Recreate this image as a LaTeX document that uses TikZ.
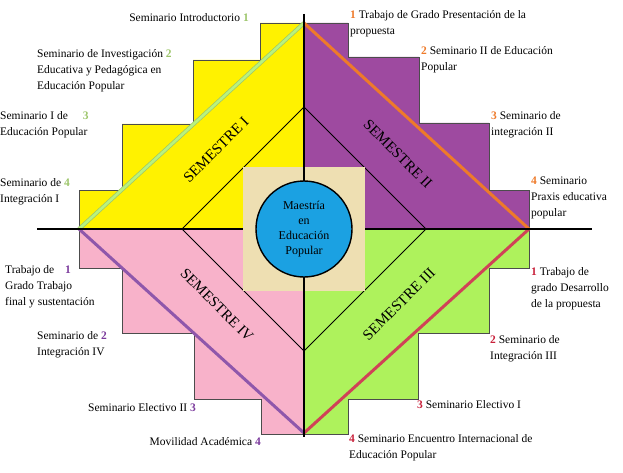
\documentclass[tikz,border=0pt]{standalone}
\usepackage{fontspec}
\setmainfont{Liberation Serif}
\usepackage{xcolor}
\usetikzlibrary{positioning}
\definecolor{semone}{HTML}{FFF200}
\definecolor{semtwo}{HTML}{9E4AA0}
\definecolor{semthree}{HTML}{AEF25C}
\definecolor{semfour}{HTML}{F8B2CA}
\definecolor{beige}{HTML}{EEDFB2}
\definecolor{core}{HTML}{1BA1E2}
\definecolor{numone}{HTML}{9CC56A}
\definecolor{numtwo}{HTML}{EE7A2A}
\definecolor{numthree}{HTML}{C8203A}
\definecolor{numfour}{HTML}{7B3A9C}
\definecolor{lineone}{HTML}{B8F27E}
\tikzset{
  stairs/.style={draw=black!70,line width=0.6pt},
  lbl/.style={inner sep=0pt,align=left,font=\fontsize{11.5}{16}\selectfont},
  semlbl/.style={inner sep=0pt,font=\fontsize{15}{16}\selectfont}
}
\newcommand{\nA}[1]{\textcolor{numone}{\textbf{#1}}}
\newcommand{\nB}[1]{\textcolor{numtwo}{\textbf{#1}}}
\newcommand{\nC}[1]{\textcolor{numthree}{\textbf{#1}}}
\newcommand{\nD}[1]{\textcolor{numfour}{\textbf{#1}}}
\begin{document}
\begin{tikzpicture}[x=1pt,y=-1pt]
  \useasboundingbox (0,0) rectangle (623,473);
  \coordinate (c) at (304,229);

  % quadrants
  \fill[semone,stairs] (304,229) -- (79,229) -- (79,190) -- (122,190) -- (122,124)
    -- (193,124) -- (193,60) -- (260,60) -- (260,23) -- (304,23) -- cycle;
  \fill[semtwo,stairs] (304,229) -- (304,23) -- (348,23) -- (348,57) -- (419,57)
    -- (419,123) -- (489,123) -- (489,190) -- (529,190) -- (529,229) -- cycle;
  \fill[semthree,stairs] (304,229) -- (529,229) -- (529,268) -- (489,268) -- (489,333)
    -- (418,333) -- (418,399) -- (348,399) -- (348,434) -- (304,434) -- cycle;
  \fill[semfour,stairs] (304,229) -- (304,434) -- (261,434) -- (261,399) -- (194,399)
    -- (194,333) -- (122,333) -- (122,268) -- (79,268) -- (79,229) -- cycle;

  % diagonals
  \coordinate (tl) at (79,229);
  \coordinate (tt) at (304,23);
  \coordinate (tr) at (529,229);
  \coordinate (tb) at (304,433);
  \draw[numone,line width=4pt] (tl) -- (tt);
  \draw[lineone,line width=2.6pt] (tl) -- (tt);
  \draw[numtwo,line width=3pt] (tt) -- (tr);
  \draw[numthree!85!white,line width=3pt] (tr) -- (tb);
  \draw[numfour!85!white,line width=3pt] (tb) -- (tl);

  % inner diamond
  \draw[black,line width=1pt] (304,107) -- (426,229) -- (304,351) -- (182,229) -- cycle;

  % axes
  \draw[black,line width=1.4pt] (304,14) -- (304,437);
  \draw[black,line width=1.4pt] (37,229) -- (592,229);

  \fill[beige] (243,167) rectangle (365,291);
  \draw[black,line width=1.4pt] (304,167) -- (304,291);
  \node[circle,fill=core,draw=black,line width=1.4pt,minimum size=96pt,inner sep=0pt,
    align=center,font=\fontsize{12}{15}\selectfont] (core) at (c) {Maestría\\en\\Educación\\Popular};

  % semesters
  \node[semlbl,rotate=45] (s1) at (216,150) {SEMESTRE I};
  \node[semlbl,rotate=-45] (s2) at (398,154) {SEMESTRE II};
  \node[semlbl,rotate=45] (s3) at (399,304) {SEMESTRE III};
  \node[semlbl,rotate=-45] (s4) at (217,305) {SEMESTRE IV};

  % courses, semester I
  \node[lbl,anchor=east] (a1) at (249,18) {Seminario Introductorio \nA{1}};
  \node[lbl,anchor=north west] (a2) at (37,49) {Seminario de Investigación \nA{2}\\Educativa y Pedagógica en\\Educación Popular};
  \node[lbl,anchor=north west] (a3) at (0,111) {Seminario I de \hspace{12pt}\nA{3}\\Educación Popular};
  \node[lbl,anchor=north west] (a4) at (0,178) {Seminario de \nA{4}\\Integración I};
  % semester II
  \node[lbl,anchor=north west] (b1) at (350,10) {\nB{1} Trabajo de Grado Presentación de la\\propuesta};
  \node[lbl,anchor=north west] (b2) at (421,46) {\nB{2} Seminario II de Educación\\Popular};
  \node[lbl,anchor=north west] (b3) at (491,111) {\nB{3} Seminario de\\integración II};
  \node[lbl,anchor=north west] (b4) at (531,177) {\nB{4} Seminario\\Praxis educativa\\popular};
  % semester III
  \node[lbl,anchor=north west] (d1) at (531,267) {\nC{1} Trabajo de\\grado Desarrollo\\de la propuesta};
  \node[lbl,anchor=north west] (d2) at (490,335) {\nC{2} Seminario de\\Integración III};
  \node[lbl,anchor=west] (d3) at (417,405) {\nC{3} Seminario Electivo I};
  \node[lbl,anchor=north west] (d4) at (349,434) {\nC{4} Seminario Encuentro Internacional de\\Educación Popular};
  % semester IV
  \node[lbl,anchor=north west] (e1) at (5,265) {Trabajo de \hspace{8pt}\nD{1}\\Grado Trabajo\\final y sustentación};
  \node[lbl,anchor=north west] (e2) at (37,331) {Seminario de \nD{2}\\Integración IV};
  \node[lbl,anchor=east] (e3) at (196,408) {Seminario Electivo II \nD{3}};
  \node[lbl,anchor=east] (e4) at (261,442) {Movilidad Académica \nD{4}};
\end{tikzpicture}
\end{document}
